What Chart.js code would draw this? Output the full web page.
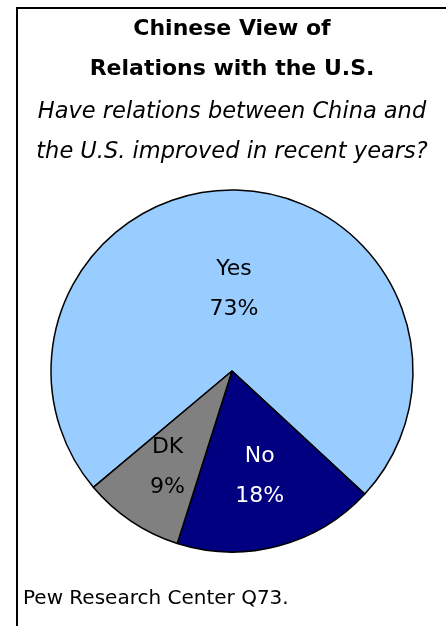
<!DOCTYPE html>
<html lang="en">
<head>
<meta charset="UTF-8">
<title>Chinese View of Relations with the U.S.</title>
<script src="https://cdn.jsdelivr.net/npm/chart.js"></script>
<style>
    body {
        margin: 0;
        background: #fff;
        font-family: 'DejaVu Sans', sans-serif;
    }
    #frame {
        position: absolute;
        left: 16px;
        top: 7px;
        width: 430px;
        height: 619px;
        border-left: 2px solid #000;
        border-top: 2px solid #000;
    }
    #chart-box {
        position: absolute;
        left: 0;
        top: 0;
        width: 428px;
        height: 617px;
    }
    #source {
        position: absolute;
        left: 5px;
        top: 576px;
        font-size: 20px;
        color: #000;
    }
</style>
</head>
<body>

<div id="frame">
    <div id="chart-box"><canvas id="pie"></canvas></div>
    <div id="source">Pew Research Center Q73.</div>
</div>

<script>
    const categories = ['Yes', 'No', 'DK'];
    const percents = [73, 18, 9];
    const sliceColors = ['#99ccff', '#000080', '#808080'];
    const labelColors = ['#000', '#fff', '#000'];
    // how far out from the centre each label sits (share of radius)
    const labelDist = [0.45, 0.6, 0.64];

    const sliceLabels = {
        id: 'sliceLabels',
        afterDatasetsDraw(chart) {
            const ctx = chart.ctx;
            const arcs = chart.getDatasetMeta(0).data;
            ctx.save();
            ctx.font = '22px "DejaVu Sans"';
            ctx.textAlign = 'center';
            ctx.textBaseline = 'middle';
            arcs.forEach((arc, i) => {
                const mid = (arc.startAngle + arc.endAngle) / 2;
                const r = arc.outerRadius * labelDist[i];
                const x = arc.x + Math.cos(mid) * r;
                const y = arc.y + Math.sin(mid) * r;
                ctx.fillStyle = labelColors[i];
                ctx.fillText(categories[i], x, y - 20);
                ctx.fillText(percents[i] + '%', x, y + 20);
            });
            ctx.restore();
        }
    };

    new Chart(document.getElementById('pie'), {
        type: 'pie',
        data: {
            labels: categories,
            datasets: [{
                data: percents,
                backgroundColor: sliceColors,
                borderColor: '#000',
                borderWidth: 1.5
            }]
        },
        options: {
            responsive: true,
            maintainAspectRatio: false,
            animation: false,
            rotation: 230,
            radius: 181,
            layout: { padding: { top: 0, bottom: 56 } },
            plugins: {
                legend: { display: false },
                tooltip: { enabled: false },
                title: {
                    display: true,
                    text: ['Chinese View of', 'Relations with the U.S.'],
                    color: '#000',
                    font: { family: 'DejaVu Sans', size: 22, weight: 'bold', lineHeight: 40 / 22 },
                    padding: { top: 0, bottom: 0 }
                },
                subtitle: {
                    display: true,
                    text: ['Have relations between China and', 'the U.S. improved in recent years?'],
                    color: '#000',
                    font: { family: 'DejaVu Sans', size: 22.5, style: 'italic', lineHeight: 40 / 22.5 },
                    padding: { top: 3, bottom: 0 }
                }
            }
        },
        plugins: [sliceLabels]
    });
</script>

</body>
</html>
